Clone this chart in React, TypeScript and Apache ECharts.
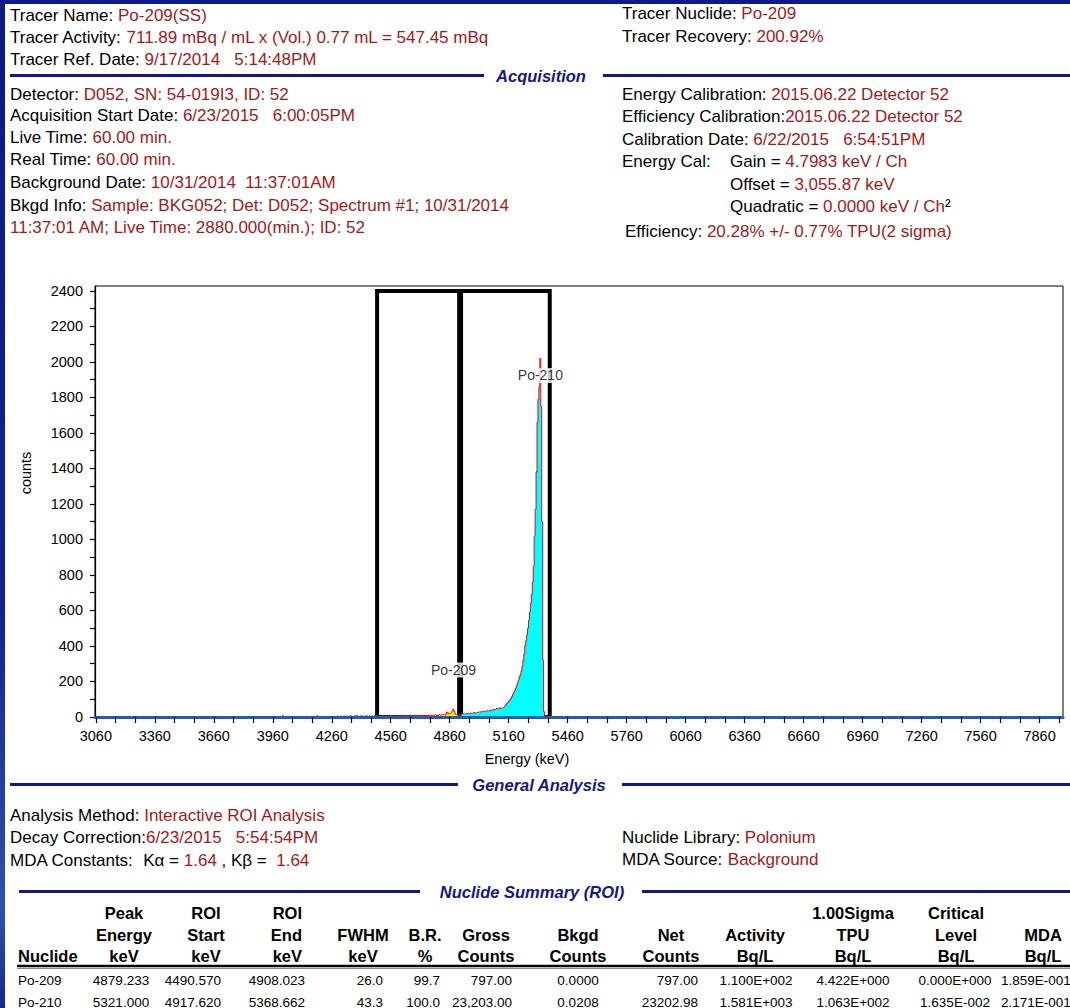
import React, { useEffect, useRef } from "react";
import * as echarts from "echarts";

const FONT = "'Liberation Sans', Arial, Helvetica, sans-serif";
const KEY = "#000000";
const VAL = "#a3191c";
const NAVY = "#16168c";
const TXT = 17;
const AX = 14.5;

// energy calibration (from report)
const energyOffset = 3055.87;
const energyGain = 4.7983;

// spectrum counts per channel, starting at channel 180
const firstChannel = 180;
const spectrumCounts = [
  0, 0, 0, 0, 0, 0, 0, 0, 0, 0,
  0, 0, 0, 0, 0, 0, 0, 0, 0, 8,
  0, 0, 0, 0, 0, 0, 0, 0, 0, 0,
  0, 0, 0, 0, 0, 0, 0, 0, 0, 0,
  0, 0, 0, 0, 0, 0, 0, 0, 0, 0,
  0, 0, 0, 0, 0, 0, 7, 0, 0, 0,
  0, 0, 0, 0, 0, 0, 0, 0, 0, 0,
  0, 0, 0, 0, 0, 0, 0, 6, 0, 0,
  0, 6, 0, 0, 5, 0, 0, 0, 6, 0,
  0, 8, 0, 0, 0, 6, 7, 0, 8, 0,
  5, 0, 7, 0, 6, 0, 0, 8, 0, 6,
  0, 7, 0, 5, 6, 0, 7, 0, 6, 7,
  5, 7, 4, 6, 5, 8, 6, 4, 7, 5,
  6, 5, 7, 4, 8, 6, 5, 7, 6, 5,
  7, 6, 8, 5, 7, 6, 9, 5, 7, 8,
  6, 8, 7, 5, 9, 7, 6, 8, 7, 9,
  8, 6, 9, 7, 8, 10, 7, 9, 8, 6,
  9, 8, 10, 7, 11, 9, 8, 10, 12, 9,
  10, 12, 9, 11, 8, 13, 10, 12, 11, 14,
  12, 10, 15, 28, 24, 18, 20, 22, 25, 35,
  43, 30, 18, 12, 10, 8, 9, 14, 17, 15,
  18, 16, 19, 17, 20, 18, 21, 19, 22, 20,
  23, 21, 26, 22, 24, 27, 25, 28, 26, 30,
  27, 31, 29, 33, 30, 32, 36, 33, 35, 40,
  36, 38, 43, 40, 42, 44, 49, 45, 47, 52,
  48, 50, 52, 55, 58, 65, 72, 78, 84, 90,
  96, 105, 115, 128, 138, 150, 162, 176, 192, 208,
  225, 240, 258, 285, 320, 355, 400, 430, 460, 500,
  545, 590, 640, 690, 760, 850, 1020, 1170, 1380, 1660,
  1790, 1860, 2020, 1750, 1100, 320, 30, 4, 0, 0,
  0, 0, 0, 0, 0, 0, 0, 0, 0, 0,
];

// ROIs (keV)
const po209Roi = [4490.57, 4908.023];
const po210Roi = [4917.62, 5368.662];
const roiBoxTop = 2400;

// peak labels
const peakNames = ["Po-209", "Po-210"];
const peakEnergies = [4879.233, 5321.0];
const peakLabelCounts = [265, 1924];

// axes
const xMin = 3055.87;
const xMax = 7979;
const yMax = 2428;
const xTickLabels = [3060, 3360, 3660, 3960, 4260, 4560, 4860, 5160, 5460, 5760, 6060, 6360, 6660, 6960, 7260, 7560, 7860];
const xTickValues: number[] = [];
for (let v = 3060; v <= 7960; v += 100) xTickValues.push(v);
const yTickLabels = [0, 200, 400, 600, 800, 1000, 1200, 1400, 1600, 1800, 2000, 2200, 2400];
const yTickValues: number[] = [];
for (let v = 0; v <= 2400; v += 100) yTickValues.push(v);

// report text
type Part = [string, string];
const infoLines: { x: number; y: number; parts: Part[] }[] = [
  { x: 10, y: 15.5, parts: [["k", "Tracer Name: "], ["v", "Po-209(SS)"]] },
  { x: 10, y: 37.5, parts: [["k", "Tracer Activity: "], ["v", "711.89 mBq / mL x (Vol.) 0.77 mL = 547.45 mBq"]] },
  { x: 10, y: 59.5, parts: [["k", "Tracer Ref. Date: "], ["v", "9/17/2014"], ["k", "   "], ["v", "5:14:48PM"]] },
  { x: 622, y: 13, parts: [["k", "Tracer Nuclide: "], ["v", "Po-209"]] },
  { x: 622, y: 36, parts: [["k", "Tracer Recovery: "], ["v", "200.92%"]] },

  { x: 10, y: 94, parts: [["k", "Detector: "], ["v", "D052, SN: 54-019I3, ID: 52"]] },
  { x: 10, y: 115.5, parts: [["k", "Acquisition Start Date: "], ["v", "6/23/2015"], ["k", "   "], ["v", "6:00:05PM"]] },
  { x: 10, y: 137.5, parts: [["k", "Live Time: "], ["v", "60.00 min."]] },
  { x: 10, y: 159.5, parts: [["k", "Real Time: "], ["v", "60.00 min."]] },
  { x: 10, y: 182, parts: [["k", "Background Date: "], ["v", "10/31/2014"], ["k", "  "], ["v", "11:37:01AM"]] },
  { x: 10, y: 205, parts: [["k", "Bkgd Info: "], ["v", "Sample: BKG052; Det: D052; Spectrum #1; 10/31/2014"]] },
  { x: 10, y: 227.5, parts: [["v", "11:37:01 AM; Live Time: 2880.000(min.); ID: 52"]] },

  { x: 622, y: 94, parts: [["k", "Energy Calibration: "], ["v", "2015.06.22 Detector 52"]] },
  { x: 622, y: 116.5, parts: [["k", "Efficiency Calibration:"], ["v", "2015.06.22 Detector 52"]] },
  { x: 622, y: 139, parts: [["k", "Calibration Date: "], ["v", "6/22/2015"], ["k", "   "], ["v", "6:54:51PM"]] },
  { x: 622, y: 161, parts: [["k", "Energy Cal:"]] },
  { x: 730, y: 161, parts: [["k", "Gain = "], ["v", "4.7983 keV / Ch"]] },
  { x: 730, y: 184, parts: [["k", "Offset = "], ["v", "3,055.87 keV"]] },
  { x: 730, y: 206, parts: [["k", "Quadratic = "], ["v", "0.0000 keV / Ch"], ["k", "²"]] },
  { x: 625, y: 231, parts: [["k", "Efficiency: "], ["v", "20.28% +/- 0.77% TPU(2 sigma)"]] },

  { x: 10, y: 815, parts: [["k", "Analysis Method: "], ["v", "Interactive ROI Analysis"]] },
  { x: 10, y: 837, parts: [["k", "Decay Correction:"], ["v", "6/23/2015"], ["k", "   "], ["v", "5:54:54PM"]] },
  { x: 10, y: 860, parts: [["k", "MDA Constants: "], ["k", " "], ["k", "Kα = "], ["v", "1.64 "], ["k", ", Kβ = "], ["k", " "], ["v", "1.64"]] },
  { x: 622, y: 837, parts: [["k", "Nuclide Library: "], ["v", "Polonium"]] },
  { x: 622, y: 859, parts: [["k", "MDA Source: "], ["v", "Background"]] },
];

const sections = [
  { title: "Acquisition", cx: 541, y: 76, l: [10, 484], r: [603, 1070] },
  { title: "General Analysis", cx: 539, y: 785, l: [10, 458], r: [622, 1070] },
  { title: "Nuclide Summary (ROI)", cx: 532, y: 892, l: [19, 420], r: [642, 1070] },
];

// table
const tableHeaders = [
  ["", "", "Nuclide"],
  ["Peak", "Energy", "keV"],
  ["ROI", "Start", "keV"],
  ["ROI", "End", "keV"],
  ["", "FWHM", "keV"],
  ["", "B.R.", "%"],
  ["", "Gross", "Counts"],
  ["", "Bkgd", "Counts"],
  ["", "Net", "Counts"],
  ["", "Activity", "Bq/L"],
  ["1.00Sigma", "TPU", "Bq/L"],
  ["Critical", "Level", "Bq/L"],
  ["", "MDA", "Bq/L"],
];
const tableRows = [
  ["Po-209", "4879.233", "4490.570", "4908.023", "26.0", "99.7", "797.00", "0.0000", "797.00", "1.100E+002", "4.422E+000", "0.000E+000", "1.859E-001"],
  ["Po-210", "5321.000", "4917.620", "5368.662", "43.3", "100.0", "23,203.00", "0.0208", "23202.98", "1.581E+003", "1.063E+002", "1.635E-002", "2.171E-001"],
];
// layout of table columns: [headerX, headerAlign, valueX, valueAlign]
const colLayout: [number, string, number, string][] = [
  [18, "left", 18, "left"],
  [124, "center", 121, "center"],
  [206, "center", 221, "right"],
  [302, "right", 305, "right"],
  [363, "center", 383, "right"],
  [425, "center", 440, "right"],
  [486, "center", 512, "right"],
  [578, "center", 578, "center"],
  [671, "center", 698, "right"],
  [755, "center", 756, "center"],
  [853, "center", 853, "center"],
  [956, "center", 955, "center"],
  [1043, "center", 1001, "left"],
];
const headerRowsY = [913, 934.5, 956];
const valueRowsY = [980, 1002];

function infoText(x: number, y: number, parts: Part[]) {
  return {
    type: "text",
    x,
    y,
    silent: true,
    style: {
      text: parts.map(([k, t]) => `{${k}|${t}}`).join(""),
      fontFamily: FONT,
      fontSize: TXT,
      fill: KEY,
      align: "left",
      verticalAlign: "middle",
      rich: {
        k: { fill: KEY, color: KEY, fontFamily: FONT, fontSize: TXT },
        v: { fill: VAL, color: VAL, fontFamily: FONT, fontSize: TXT },
      },
    },
  };
}

function plainText(x: number, y: number, text: string, opts: any) {
  return {
    type: "text",
    x,
    y,
    silent: true,
    style: {
      text,
      fontFamily: FONT,
      fill: "#000",
      verticalAlign: "middle",
      ...opts,
    },
  };
}

function hLine(x1: number, x2: number, y: number, color: string, w: number) {
  return {
    type: "line",
    silent: true,
    shape: { x1, y1: y, x2, y2: y },
    style: { stroke: color, lineWidth: w },
  };
}

export default function App() {
  const ref = useRef<HTMLDivElement>(null);

  useEffect(() => {
    document.body.style.margin = "0";
    const chart = echarts.init(ref.current!, null, { renderer: "svg" });

    const allData = spectrumCounts.map((c, i) => [energyOffset + energyGain * (firstChannel + i), c]);
    const inRoi = (roi: number[]) => allData.filter((d) => d[0] >= roi[0] - 0.01 && d[0] <= roi[1] + 0.01);

    const graphics: any[] = [
      { type: "rect", silent: true, shape: { x: 0, y: 0, width: 1070, height: 4 }, style: { fill: "#0c1b86" } },
      {
        type: "rect",
        silent: true,
        shape: { x: 0, y: 0, width: 5, height: 1008 },
        style: {
          fill: new echarts.graphic.LinearGradient(0, 0, 0, 1, [
            { offset: 0, color: "#0c1b86" },
            { offset: 0.6, color: "#10238e" },
            { offset: 0.9, color: "#3050b0" },
            { offset: 1, color: "#142890" },
          ]),
        },
      },
    ];

    infoLines.forEach((l) => graphics.push(infoText(l.x, l.y, l.parts)));

    sections.forEach((s) => {
      graphics.push(hLine(s.l[0], s.l[1], s.y - 0.5, NAVY, 3));
      graphics.push(hLine(s.r[0], s.r[1], s.y - 0.5, NAVY, 3));
      graphics.push(
        plainText(s.cx, s.y, s.title, {
          fill: NAVY,
          fontSize: 16.5,
          fontWeight: "bold",
          fontStyle: "italic",
          align: "center",
        })
      );
    });

    // axis titles
    graphics.push(plainText(527, 759, "Energy (keV)", { fontSize: AX, align: "center" }));
    graphics.push({
      type: "text",
      x: 26,
      y: 473,
      rotation: Math.PI / 2,
      silent: true,
      style: { text: "counts", fontFamily: FONT, fontSize: AX, fill: "#000", align: "center", verticalAlign: "middle" },
    });

    // table
    tableHeaders.forEach((h, ci) => {
      const [hx, ha] = colLayout[ci];
      h.forEach((t, ri) => {
        if (!t) return;
        graphics.push(plainText(hx, headerRowsY[ri], t, { fontSize: 16.5, fontWeight: "bold", align: ha }));
      });
    });
    graphics.push(hLine(17, 1070, 966, "#000", 2.5));
    graphics.push(hLine(17, 1070, 968.5, "#8a8a8a", 1));
    tableRows.forEach((row, ri) => {
      row.forEach((t, ci) => {
        const [, , vx, va] = colLayout[ci];
        graphics.push(plainText(vx, valueRowsY[ri], t, { fontSize: 13.5, align: va }));
      });
    });

    chart.setOption({
      animation: false,
      backgroundColor: "#ffffff",
      grid: {
        left: 95,
        top: 286,
        width: 968,
        height: 431,
        show: true,
        backgroundColor: "#ffffff",
        borderColor: "#000000",
        borderWidth: 1,
      },
      xAxis: {
        type: "value",
        min: xMin,
        max: xMax,
        z: 5,
        axisLine: { show: true, onZero: false, lineStyle: { color: "#1f5cbf", width: 3 } },
        axisTick: { show: true, customValues: xTickValues, length: 6, lineStyle: { color: "#000", width: 1.2 } },
        axisLabel: {
          customValues: xTickLabels,
          margin: 11,
          fontSize: AX,
          fontFamily: FONT,
          color: "#000",
          formatter: (v: number) => String(Math.round(v)),
        },
        splitLine: { show: false },
      },
      yAxis: {
        type: "value",
        min: 0,
        max: yMax,
        axisLine: { show: true, lineStyle: { color: "#000", width: 1.2 } },
        axisTick: { show: true, customValues: yTickValues, length: 5, lineStyle: { color: "#000", width: 1.2 } },
        axisLabel: {
          customValues: yTickLabels,
          margin: 12,
          fontSize: AX,
          fontFamily: FONT,
          color: "#000",
          formatter: (v: number) => String(Math.round(v)),
        },
        splitLine: { show: false },
      },
      series: [
        {
          name: "Po-209 ROI",
          type: "line",
          step: "middle",
          data: inRoi(po209Roi),
          showSymbol: false,
          symbol: "none",
          lineStyle: { width: 0 },
          areaStyle: { color: "#ffff00", opacity: 1 },
          z: 2,
        },
        {
          name: "Po-210 ROI",
          type: "line",
          step: "middle",
          data: inRoi(po210Roi),
          showSymbol: false,
          symbol: "none",
          lineStyle: { width: 0 },
          areaStyle: { color: "#00ffff", opacity: 1 },
          z: 2,
        },
        {
          name: "Spectrum",
          type: "line",
          step: "middle",
          data: allData,
          showSymbol: false,
          symbol: "none",
          lineStyle: { color: "#ff0000", width: 1 },
          z: 3,
          markArea: {
            silent: true,
            itemStyle: { color: "rgba(0,0,0,0)", borderColor: "#000", borderWidth: 4 },
            data: [
              [{ xAxis: po209Roi[0], yAxis: 0 }, { xAxis: po209Roi[1], yAxis: roiBoxTop }],
              [{ xAxis: po210Roi[0], yAxis: 0 }, { xAxis: po210Roi[1], yAxis: roiBoxTop }],
            ],
          },
        },
        {
          name: "Peaks",
          type: "scatter",
          symbolSize: 0,
          z: 10,
          data: peakNames.map((n, i) => ({ name: n, value: [peakEnergies[i], peakLabelCounts[i]] })),
          label: {
            show: true,
            position: "inside",
            formatter: (p: any) => p.name,
            fontFamily: FONT,
            fontSize: 14,
            color: "#000",
            backgroundColor: "#ffffff",
            padding: [1, 1, 0, 1],
          },
        },
      ],
      graphic: { elements: graphics },
    });

    return () => chart.dispose();
  }, []);

  return (
    <div
      ref={ref}
      style={{ position: "absolute", left: 0, top: 0, width: 1070, height: 1008, background: "#ffffff" }}
    />
  );
}
